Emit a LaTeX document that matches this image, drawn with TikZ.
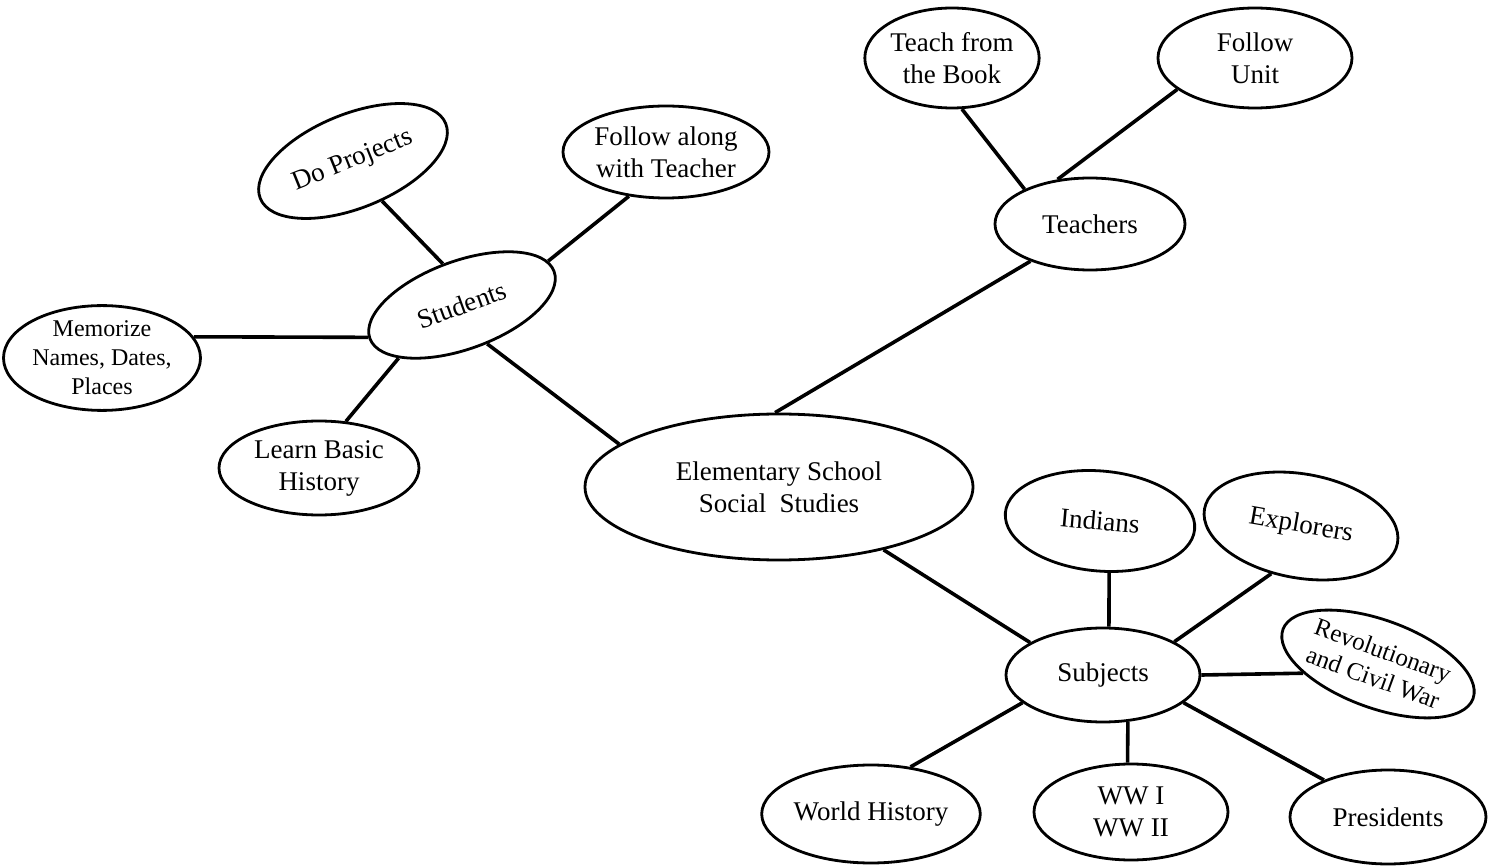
\documentclass[tikz,border=0pt]{standalone}
\usepackage{fontspec}
\setmainfont{Liberation Serif}
\usetikzlibrary{positioning,shapes}
\tikzstyle{idea} = [draw, ellipse, line width=1.4pt, fill=white, align=center, inner sep=0pt]
\tikzstyle{line} = [draw, line width=1.8pt]
\begin{document}
\begin{tikzpicture}[x=0.5pt, y=-0.5pt, font=\fontsize{13.5}{16}\selectfont]
    \useasboundingbox (0,0) rectangle (1496,866);
    % Place nodes
    \node [idea, minimum width=194pt, minimum height=73pt] (social) at (779,487) {Elementary School\\Social~~Studies};
    \node [idea, minimum width=95pt, minimum height=46pt] (teachers) at (1090,224) {Teachers};
    \node [idea, minimum width=85pt, minimum height=50pt] (book) at (952,58) {Teach from\\the Book};
    \node [idea, minimum width=97pt, minimum height=50pt] (unit) at (1255,58) {Follow\\Unit};
    \node [idea, rotate=20, minimum width=98pt, minimum height=44pt] (students) at (462,305) {Students};
    \node [idea, rotate=22, minimum width=100pt, minimum height=47pt] (projects) at (353,161) {Do Projects};
    \node [idea, minimum width=103pt, minimum height=46pt] (along) at (666,152) {Follow along\\with Teacher};
    \node [idea, minimum width=96pt, minimum height=50pt, font=\fontsize{12}{14.5}\selectfont] (memorize) at (102,358) {Memorize\\Names, Dates,\\Places};
    \node [idea, minimum width=100pt, minimum height=47pt] (basic) at (319,468) {Learn Basic\\History};
    \node [idea, minimum width=97pt, minimum height=47pt] (subjects) at (1103,675) {Subjects};
    \node [idea, rotate=-5, minimum width=95pt, minimum height=50pt] (indians) at (1100,521) {Indians};
    \node [idea, rotate=-10, minimum width=98pt, minimum height=52pt] (explorers) at (1301,526) {Explorers};
    \node [idea, rotate=-20, minimum width=100pt, minimum height=44pt, font=\fontsize{12.5}{14.5}\selectfont] (civilwar) at (1378,664) {Revolutionary\\and Civil War};
    \node [idea, minimum width=97pt, minimum height=48pt] (wars) at (1131,812) {WW I\\WW II};
    \node [idea, minimum width=98pt, minimum height=47pt] (presidents) at (1388,817) {Presidents};
    \node [idea, minimum width=98pt, minimum height=49pt] (world) at (871,814) {World History};
    % Draw edges
    \path [line] (social.93) -- (teachers.212);
    \path [line] (teachers.152) -- (book.281);
    \path [line] (teachers.126) -- (unit.202);
    \path [line] (social.165) -- (students.283);
    \path [line] (students.95) -- (projects.284);
    \path [line] (students.7) -- (along.230);
    \path [line] (students.179) -- (memorize.13);
    \path [line] (students.200) -- (basic.60);
    \path [line] (social.329) -- (subjects.156);
    \path [line] (subjects.83) -- (indians.285);
    \path [line] (subjects.25) -- (explorers.248);
    \path [line] (subjects.0) -- (civilwar.207);
    \path [line] (subjects.298) -- (wars.94);
    \path [line] (subjects.341) -- (presidents.150);
    \path [line] (subjects.199) -- (world.50);
\end{tikzpicture}
\end{document}
